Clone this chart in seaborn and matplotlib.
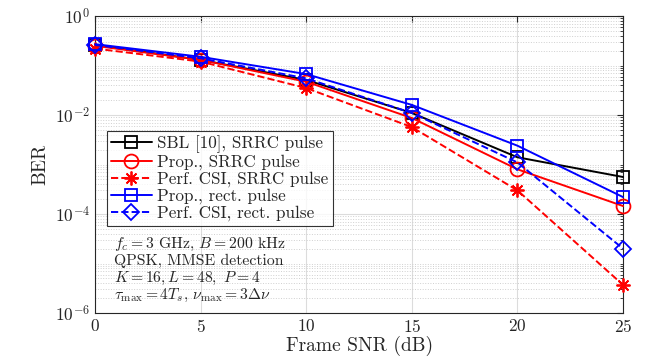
import numpy as np
import pandas as pd
import matplotlib
matplotlib.use("Agg")
import matplotlib.pyplot as plt
import seaborn as sns
from matplotlib.ticker import LogLocator, NullFormatter

snr_db = [0, 5, 10, 15, 20, 25]
ber_sbl_srrc = [0.26, 0.13, 0.051, 0.011, 0.0014, 0.00056]
ber_prop_srrc = [0.25, 0.13, 0.047, 0.0087, 0.0008, 0.000145]
ber_perf_srrc = [0.22, 0.12, 0.035, 0.0057, 0.0003, 3.7e-6]
ber_prop_rect = [0.27, 0.15, 0.067, 0.016, 0.0024, 0.00022]
ber_perf_rect = [0.26, 0.14, 0.055, 0.011, 0.0011, 2.0e-5]

labels = ["SBL [10], SRRC pulse", "Prop., SRRC pulse", "Perf. CSI, SRRC pulse",
          "Prop., rect. pulse", "Perf. CSI, rect. pulse"]
series = [ber_sbl_srrc, ber_prop_srrc, ber_perf_srrc, ber_prop_rect, ber_perf_rect]
colors = ["black", "#ff0000", "#ff0000", "#0000ff", "#0000ff"]
styles = ["-", "-", "--", "-", "--"]
markers = ["s", "o", (8, 2, 0), "s", "D"]
msizes = [9, 10, 10, 9, 8]

sns.set_style("white")
plt.rcParams["font.family"] = ["cmr10"]
plt.rcParams["mathtext.fontset"] = "cm"
plt.rcParams["axes.formatter.use_mathtext"] = True

fig = plt.figure(figsize=(6.47, 3.64), dpi=100)
ax = fig.add_axes([0.147, 0.140, 0.816, 0.816])

for lab, ys, c, ls, m, ms in zip(labels, series, colors, styles, markers, msizes):
    df = pd.DataFrame({"snr": snr_db, "ber": ys})
    sns.lineplot(data=df, x="snr", y="ber", ax=ax, color=c, linestyle=ls, marker=m,
                 markersize=ms, markerfacecolor="none", markeredgecolor=c,
                 markeredgewidth=1.3, linewidth=1.4, label=lab, clip_on=False, zorder=3)

ax.set_yscale("log")
ax.set_ylim(1e-6, 1)
ax.set_xlim(0, 25)
ax.set_xticks([0, 5, 10, 15, 20, 25])
ax.set_yticks([1e-6, 1e-4, 1e-2, 1])
ax.yaxis.set_minor_locator(LogLocator(base=10, subs=np.arange(1, 10) * 1.0, numticks=20))
ax.yaxis.set_minor_formatter(NullFormatter())

ax.grid(True, which="major", color="#dcdcdc", linestyle="-", linewidth=0.8)
ax.grid(True, which="minor", color="#d0d0d0", linestyle=":", linewidth=0.7)
ax.set_axisbelow(True)

for sp in ax.spines.values():
    sp.set_color("#262626")
    sp.set_linewidth(0.8)
ax.tick_params(which="both", direction="in", top=True, right=True, colors="#262626",
               labelsize=12.5)
ax.tick_params(which="major", length=4)
ax.tick_params(which="minor", length=2)

ax.set_xlabel("Frame SNR (dB)", fontsize=14, labelpad=1, color="#262626")
ax.set_ylabel("BER", fontsize=14, labelpad=4, color="#262626")

leg = ax.legend(loc="upper left", bbox_to_anchor=(0.022, 0.613), fontsize=12.3,
                frameon=True, fancybox=False, edgecolor="black", handlelength=2.4,
                handletextpad=0.3, borderpad=0.25, labelspacing=0.08, borderaxespad=0)
leg.get_frame().set_linewidth(0.8)
leg.set_zorder(5)

info = ["$f_c = 3$ GHz, $B = 200$ kHz",
        "QPSK, MMSE detection",
        "$K = 16, L = 48,\\ P = 4$",
        "$\\tau_{\\max} = 4T_s$, $\\nu_{\\max} = 3\\Delta\\nu$"]
for i, t in enumerate(info):
    ax.text(0.035, 0.232 - i * 0.058, t, transform=ax.transAxes, fontsize=11.3,
            color="#262626", va="center")

fig.savefig("out.png", dpi=100)
